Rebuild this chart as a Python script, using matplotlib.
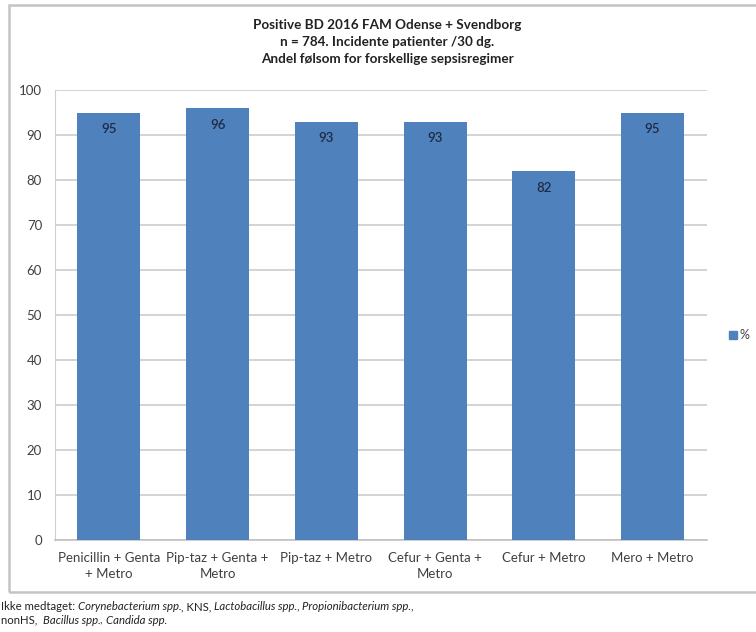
import matplotlib
matplotlib.use("Agg")
import matplotlib.pyplot as plt
from matplotlib.patches import Rectangle

plt.rcParams['font.family'] = ['Lato', 'DejaVu Sans']

categories = ["Penicillin + Genta\n+ Metro", "Pip-taz + Genta +\nMetro", "Pip-taz + Metro",
              "Cefur + Genta +\nMetro", "Cefur + Metro", "Mero + Metro"]
values = [95, 96, 93, 93, 82, 95]
series_name = "%"
yticks = list(range(0, 101, 10))

title = ("Positive BD 2016 FAM Odense + Svendborg\n"
         "n = 784. Incidente patienter /30 dg.\n"
         "Andel følsom for forskellige sepsisregimer")

# footnote as (text, italic) runs
foot_lines = [
    [("Ikke medtaget: ", False), ("Corynebacterium spp.", True), (", KNS, ", False),
     ("Lactobacillus spp.", True), (", ", False), ("Propionibacterium spp.", True), (",", False)],
    [("nonHS,  ", False), ("Bacillus spp.", True), (", ", False), ("Candida spp.", True)],
]

W, H = 756, 632
fig = plt.figure(figsize=(W / 100, H / 100), dpi=100)
fig.patch.set_facecolor("white")

# chart frame
fig.patches.append(Rectangle((9 / W, (H - 592) / H), (W + 20) / W, (592 - 5) / H,
                             transform=fig.transFigure, fill=False,
                             edgecolor="#c4c4c4", linewidth=1.8, zorder=0))

ax = fig.add_axes([54.6 / W, (H - 540) / H, (706.9 - 54.6) / W, 450 / H])
bar_color = "#4f81bd"
x = range(len(categories))
bars = ax.bar(x, values, width=0.58, color=bar_color, zorder=3, label=series_name)

for xi, v in zip(x, values):
    ax.annotate(f"{v}", (xi, v), xytext=(0, -12), textcoords="offset points",
                ha="center", va="center", fontsize=9.5, fontweight="semibold",
                color="#1f2a44", zorder=4)

ax.set_xlim(-0.5, len(categories) - 0.5)
ax.set_ylim(0, 100)
ax.set_yticks(yticks)
ax.yaxis.grid(True, color="#c8c8c8", linewidth=1.1, zorder=0)
ax.set_axisbelow(True)
for s in ["top", "right"]:
    ax.spines[s].set_visible(False)
ax.spines["left"].set_color("#d0d0d0")
ax.spines["bottom"].set_color("#bdbdbd")
ax.spines["bottom"].set_linewidth(1.1)
ax.tick_params(axis="both", length=0, colors="#404040", labelsize=9.5)
ax.tick_params(axis="y", pad=9)
ax.tick_params(axis="x", pad=9)
ax.set_xticks(list(x))
ax.set_xticklabels(categories, linespacing=1.4)

fig.text((253 + 522) / 2 / W, 1 - 19 / H, title, ha="center", va="top",
         fontsize=9.7, fontweight="bold", color="#222222", linespacing=1.5)

# legend
fig.patches.append(Rectangle((729 / W, 1 - 339 / H), 8 / W, 8 / H,
                             transform=fig.transFigure, color=bar_color))
fig.text(740 / W, 1 - 335 / H, series_name, ha="left", va="center",
         fontsize=9, color="#404040")

# footnote, drawn run by run
renderer = fig.canvas.get_renderer()
for (x0, y0), runs in zip([(1, 607), (1, 620)], foot_lines):
    xpos = x0
    for txt, italic in runs:
        t = fig.text(xpos / W, 1 - y0 / H, txt, ha="left", va="center",
                     fontsize=8.2, color="#222222",
                     fontstyle="italic" if italic else "normal")
        bb = t.get_window_extent(renderer=renderer)
        xpos += bb.width - (0.6 if italic else 0)

fig.savefig("out.png", dpi=100)
